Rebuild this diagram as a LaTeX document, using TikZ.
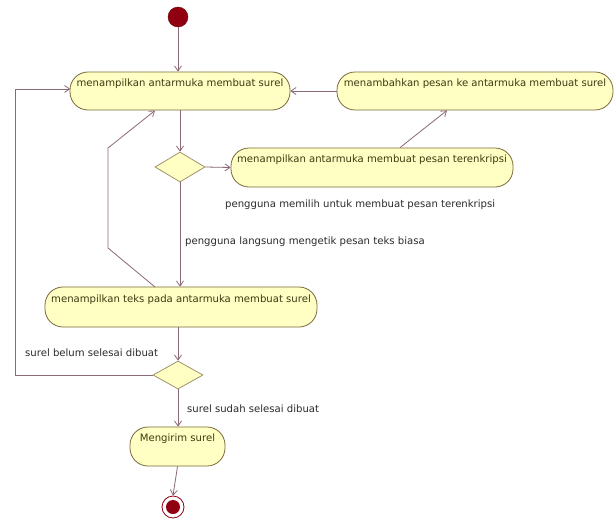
\documentclass[tikz,border=0pt]{standalone}
\usepackage{fontspec}
\setmainfont{DejaVu Sans}
\usetikzlibrary{arrows.meta,shapes.geometric,calc}
\definecolor{nodefill}{HTML}{FFFFC4}
\definecolor{nodeline}{HTML}{7A6A3A}
\definecolor{edgecol}{HTML}{8A6878}
\definecolor{nodetext}{HTML}{3A3A10}
\definecolor{labeltext}{HTML}{2A2A2A}
\definecolor{dotred}{HTML}{900010}
\tikzset{
  actbox/.style={draw=nodeline, fill=nodefill, line width=0.8pt, rounded corners=18pt,
    inner xsep=4pt, inner ysep=2pt, text height=12pt, text depth=22pt,
    font=\fontsize{10.1}{12}\selectfont, text=nodetext},
  decision/.style={diamond, draw=nodeline!80, fill=nodefill, line width=0.7pt, aspect=1.7, inner sep=0pt},
  flow/.style={draw=edgecol, line width=0.8pt, -{Straight Barb[length=5pt,width=7pt]}},
  guard/.style={font=\fontsize{10.1}{12}\selectfont, text=labeltext, anchor=west, inner sep=0pt}
}
\begin{document}
\begin{tikzpicture}[x=1pt,y=-1pt]
\useasboundingbox (0,0) rectangle (616,525);
\fill[white] (0,0) rectangle (616,525);
% start and end
\node[circle, fill=dotred, draw=dotred!70!black, minimum size=20pt, inner sep=0pt] (start) at (178,17) {};
\node[circle, fill=white, draw=dotred, line width=0.8pt, minimum size=22pt, inner sep=0pt] (endring) at (173,507) {};
\node[circle, fill=dotred, minimum size=14pt, inner sep=0pt] (enddot) at (173,507) {};
% activities
\node[actbox, minimum width=220pt, minimum height=38pt] (A) at (180,91) {menampilkan antarmuka membuat surel};
\node[actbox, minimum width=276pt, minimum height=38pt] (B) at (475,91) {menambahkan pesan ke antarmuka membuat surel};
\node[actbox, minimum width=282pt, minimum height=39pt] (C) at (372,167.5) {menampilkan antarmuka membuat pesan terenkripsi};
\node[actbox, minimum width=272pt, minimum height=40pt] (D) at (181,307) {menampilkan teks pada antarmuka membuat surel};
\node[actbox, minimum width=95pt, minimum height=39pt] (E) at (177.5,446.5) {Mengirim surel};
% decisions
\node[decision, minimum width=50pt, minimum height=30pt] (d1) at (180,167) {};
\node[decision, minimum width=50pt, minimum height=28pt] (d2) at (178,375) {};
% helper coordinates
\coordinate (cb1) at ($(C.north)+(28,0)$);
\coordinate (cb2) at ($(B.south)+(-28,0)$);
\coordinate (da0) at (155,287);
\coordinate (da1) at (108,248);
\coordinate (da2) at (108,148);
\coordinate (da3) at (155,110.5);
\coordinate (lp1) at (15,375);
\coordinate (lp2) at (15,89);
\coordinate (lp3) at (70.2,89);
% flows
\draw[flow] (start) -- (start |- A.north);
\draw[flow] (A.south) -- (d1.north);
\draw[flow] (d1.east) -- (C.west);
\draw[flow] (cb1) -- (cb2);
\draw[flow] (B.west) -- (A.east);
\draw[flow] (d1.south) -- (d1.south |- D.north);
\draw[flow] (da0) -- (da1) -- (da2) -- (da3);
\draw[flow] (D.south -| d2.north) -- (d2.north);
\draw[flow] (d2.west) -- (lp1) -- (lp2) -- (lp3);
\draw[flow] (d2.south) -- (E.north -| d2.south);
\draw[flow] (E.south) -- (endring.north);
% guards
\node[guard] (g1) at (225,205) {pengguna memilih untuk membuat pesan terenkripsi};
\node[guard] (g2) at (185,242) {pengguna langsung mengetik pesan teks biasa};
\node[guard] (g3) at (25,353) {surel belum selesai dibuat};
\node[guard] (g4) at (187,409) {surel sudah selesai dibuat};
\end{tikzpicture}
\end{document}
